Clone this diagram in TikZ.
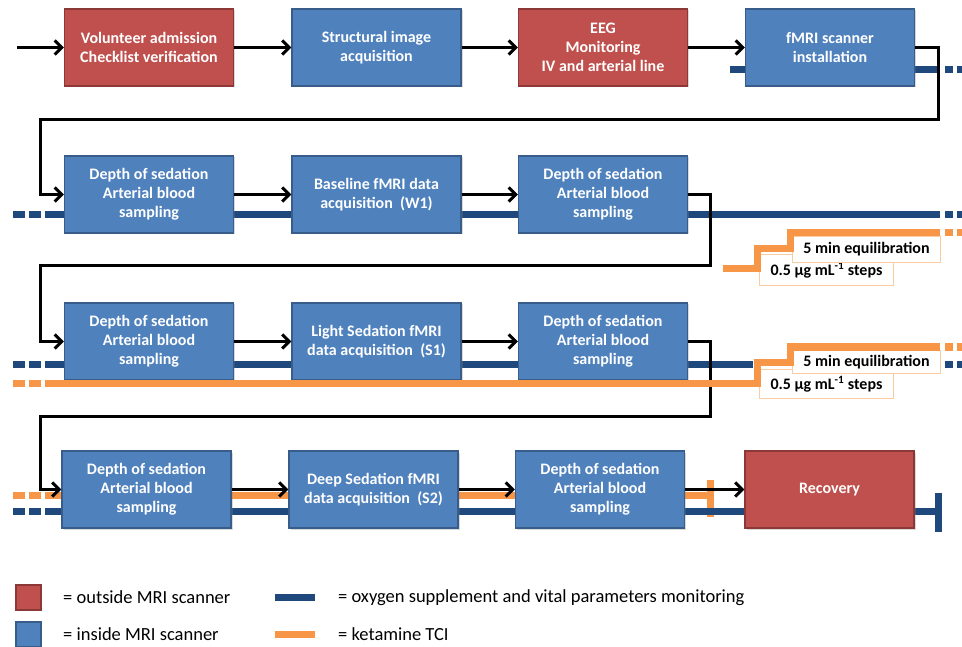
\documentclass[tikz,border=0pt]{standalone}
\usepackage{fontspec}
\setmainfont{Carlito}
\usetikzlibrary{arrows.meta,shadows}
\definecolor{outred}{RGB}{192,80,77}
\definecolor{outredline}{RGB}{140,56,54}
\definecolor{inblue}{RGB}{79,129,189}
\definecolor{inblueline}{RGB}{56,93,138}
\definecolor{oxynavy}{RGB}{31,73,125}
\definecolor{ketorange}{RGB}{247,150,70}

\begin{document}
\begin{tikzpicture}[x=1pt,y=-1pt]
\tikzset{box/.style={minimum width=169pt,minimum height=77pt,inner sep=2pt,align=center,text=white,font=\fontsize{16}{19}\selectfont\bfseries,line width=1.3pt,drop shadow={shadow xshift=1.5pt,shadow yshift=-1.5pt,opacity=0.3}},
  outbox/.style={box,fill=outred,draw=outredline},
  inbox/.style={box,fill=inblue,draw=inblueline},
  flow/.style={line width=3pt,-{Straight Barb[length=7pt,width=14pt]}},
  oxy/.style={line width=7pt,oxynavy},
  keta/.style={line width=7pt,ketorange},
  lead/.style={dash pattern=on 12pt off 4pt},
  tail/.style={dash pattern=on 8pt off 4pt},
  note/.style={draw=ketorange!50,fill=white,line width=1pt,inner sep=0pt,anchor=north west,font=\fontsize{16}{18}\selectfont\bfseries},
  keysq/.style={minimum size=25pt,inner sep=0pt,line width=1.3pt},
  keytxt/.style={anchor=west,inner sep=0pt,font=\fontsize{18.5}{20}\selectfont}}
\useasboundingbox (0,0) rectangle (962,647);

% monitoring and TCI lines
\draw[oxy] (730,70) -- (940,70);
\draw[oxy,tail] (945,70) -- (962,70);
\draw[oxy,lead] (13,215) -- (41,215);
\draw[oxy] (45,215) -- (940,215);
\draw[oxy,tail] (945,215) -- (962,215);
\draw[oxy,lead] (13,364) -- (41,364);
\draw[oxy] (45,364) -- (753,364);
\draw[oxy,tail] (945,364) -- (962,364);
\draw[keta,lead] (13,383) -- (41,383);
\draw[keta,lead] (13,495) -- (41,495);
\draw[keta] (45,495) -- (710,495);
\draw[keta] (710,480) -- (710,517);
\draw[oxy,lead] (13,511) -- (41,511);
\draw[oxy] (45,511) -- (938,511);
\draw[oxy] (938,493) -- (938,532);

% row 1
\node[outbox] (r1a) at (149,47.5) {Volunteer admission\\Checklist verification};
\node[inbox] (r1b) at (376.5,47.5) {Structural image\\acquisition};
\node[outbox] (r1c) at (603,47.5) {EEG\\Monitoring\\IV and arterial line};
\node[inbox] (r1d) at (830,47.5) {fMRI scanner\\installation};
% row 2
\node[inbox] (r2a) at (149,194.5) {Depth of sedation\\Arterial blood\\sampling};
\node[inbox] (r2b) at (376.5,194.5) {Baseline fMRI data\\acquisition\ \ (W1)};
\node[inbox] (r2c) at (603,194.5) {Depth of sedation\\Arterial blood\\sampling};
% row 3
\node[inbox] (r3a) at (149,341.5) {Depth of sedation\\Arterial blood\\sampling};
\node[inbox] (r3b) at (376.5,341.5) {Light Sedation fMRI\\data acquisition\ \ (S1)};
\node[inbox] (r3c) at (603,341.5) {Depth of sedation\\Arterial blood\\sampling};
% row 4
\node[inbox] (r4a) at (146.5,489.5) {Depth of sedation\\Arterial blood\\sampling};
\node[inbox] (r4b) at (373.5,489.5) {Deep Sedation fMRI\\data acquisition\ \ (S2)};
\node[inbox] (r4c) at (600,489.5) {Depth of sedation\\Arterial blood\\sampling};
\node[outbox] (r4d) at (829.5,489.5) {Recovery};

\coordinate (start) at (17,47.5);
\draw[flow] (start) -- (r1a);
\draw[flow] (r1a) -- (r1b);
\draw[flow] (r1b) -- (r1c);
\draw[flow] (r1c) -- (r1d);
\draw[flow] (r1d.east) -| (938,120) -| (40,194.5) -- (r2a.west);
\draw[flow] (r2a) -- (r2b);
\draw[flow] (r2b) -- (r2c);
\draw[flow] (r2c.east) -| (710,266) -| (40,341.5) -- (r3a.west);
\draw[flow] (r3a) -- (r3b);
\draw[flow] (r3b) -- (r3c);
\draw[flow] (r3c.east) -| (710,416) -| (40,489.5) -- (r4a.west);
\draw[flow] (r4a) -- (r4b);
\draw[flow] (r4b) -- (r4c);
\draw[flow] (r4c) -- (r4d);

% dose steps
\node[note,minimum width=134pt,minimum height=31pt] (dose1) at (759,254) {0.5 µg mL\textsuperscript{-1} steps};
\node[note,minimum width=148pt,minimum height=26pt] (equi1) at (792,236) {5 min equilibration};
\draw[keta] (723,269) -- (757,269) -- (757,249) -- (790,249) -- (790,233) -- (940,233);
\draw[keta,tail] (945,233) -- (962,233);
\node[note,minimum width=134pt,minimum height=29pt] (dose2) at (759,369) {0.5 µg mL\textsuperscript{-1} steps};
\node[note,minimum width=148pt,minimum height=23pt] (equi2) at (792,350) {5 min equilibration};
\draw[keta] (45,383) -- (757,383) -- (757,362) -- (790,362) -- (790,347) -- (940,347);
\draw[keta,tail] (945,347) -- (962,347);

% legend
\node[keysq,fill=outred,draw=outredline] (keyout) at (28.5,597.5) {};
\node[keytxt] (keyouttxt) at (63,597.5) {= outside MRI scanner};
\node[keysq,fill=inblue,draw=inblueline] (keyin) at (28.5,634.5) {};
\node[keytxt] (keyintxt) at (63,634.5) {= inside MRI scanner};
\draw[oxy] (275,597) -- (315,597);
\node[keytxt] (keyoxytxt) at (338,597.5) {= oxygen supplement and vital parameters monitoring};
\draw[keta] (275,634) -- (315,634);
\node[keytxt] (keyketatxt) at (338,634.5) {= ketamine TCI};
\end{tikzpicture}
\end{document}
